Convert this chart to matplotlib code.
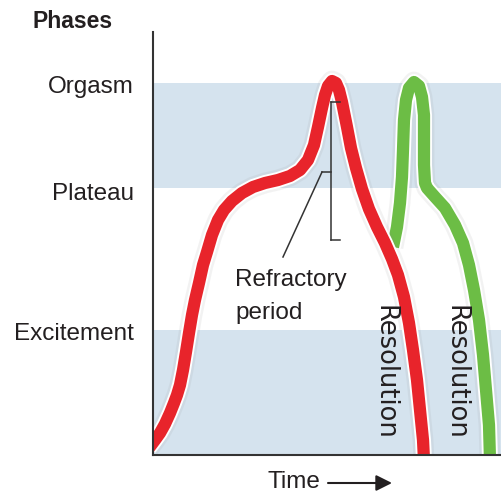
import matplotlib.pyplot as plt

# Phase levels (y) and shaded bands
phases = ['Orgasm', 'Plateau', 'Excitement']
phase_levels = [370, 264, 123]
bands = [(0, 125), (267, 372)]

# Red curve (time, level)
red_x = [-4, 2, 7, 12, 17, 21, 24, 27, 30, 33, 36, 39, 42, 46, 50, 54, 59, 65, 71, 79,
         89, 100, 112, 125, 137, 147, 155, 161, 165, 169, 172, 175, 179, 183, 186, 189,
         194, 198, 203, 209, 216, 224, 232, 239, 245, 251, 256, 260, 264, 267, 270, 271]
red_y = [7, 15, 22, 31, 42, 52, 60, 70, 85, 103, 122, 140, 155, 172, 190, 203, 220, 235, 245, 254,
         262, 268, 272, 275, 279, 285, 295, 310, 328, 347, 360, 369, 374, 372, 365, 353,
         328, 307, 287, 266, 246, 228, 212, 196, 180, 158, 132, 105, 75, 45, 15, -5]

# Green curve (time, level)
green_x = [240, 244, 247, 249, 250, 251, 253, 256, 261, 266, 269, 271, 271, 271, 272, 274,
           282, 292, 302, 310, 316, 321, 326, 330, 333, 336, 337]
green_y = [208, 228, 252, 278, 305, 335, 355, 367, 373, 369, 358, 340, 315, 290, 272, 267,
           258, 247, 230, 212, 190, 165, 135, 100, 65, 30, -5]

# Refractory bracket
refr_x = 178
refr_top, refr_mid, refr_bottom = 353, 283, 215
refr_label_xy = (130, 198)

band_color = '#d5e3ee'
ink = '#231f20'
font = ['Liberation Sans', 'DejaVu Sans']

W, H = 502, 497
fig = plt.figure(figsize=(W / 100, H / 100), dpi=100)
ax = fig.add_axes([153 / W, (H - 455) / H, 349 / W, 423 / H])
ax.set_xlim(0, 349)
ax.set_ylim(0, 423)

for lo, hi in bands:
    ax.axhspan(lo, hi, color=band_color, zorder=0, lw=0)

for xs, ys, c in [(green_x, green_y, '#6cbd45'), (red_x, red_y, '#e8242b')]:
    ax.plot(xs, ys, color='#888888', lw=15, alpha=0.1, solid_joinstyle='round', solid_capstyle='butt')
    ax.plot(xs, ys, color='white', lw=11.5, solid_joinstyle='round', solid_capstyle='butt')
    ax.plot(xs, ys, color=c, lw=8.8, solid_joinstyle='round', solid_capstyle='butt')

# bracket
bk = dict(color='#333333', lw=1.1, zorder=5)
ax.plot([refr_x, refr_x], [refr_bottom, refr_top], **bk)
ax.plot([refr_x, refr_x + 9], [refr_top, refr_top], **bk)
ax.plot([refr_x, refr_x + 9], [refr_bottom, refr_bottom], **bk)
ax.plot([refr_x - 9, refr_x], [refr_mid, refr_mid], **bk)
ax.plot([refr_x - 9, refr_label_xy[0]], [refr_mid, refr_label_xy[1]], **bk)
ax.text(82, 169, 'Refractory', fontsize=17.5, color=ink, family=font, va='baseline', ha='left')
ax.text(82, 136, 'period', fontsize=17.5, color=ink, family=font, va='baseline', ha='left')

for xr in [232, 303]:
    ax.text(xr, 83, 'Resolution', rotation=-90, fontsize=18.5, color=ink,
            family=['DejaVu Sans'], ha='center', va='center')

ax.set_yticks(phase_levels)
ax.set_yticklabels(phases, fontsize=17.5, color=ink, family=font)
ax.tick_params(axis='y', length=0, pad=14)
ax.set_xticks([])
for s in ['top', 'right']:
    ax.spines[s].set_visible(False)
for s in ['left', 'bottom']:
    ax.spines[s].set_color('#333333')
    ax.spines[s].set_linewidth(1.5)
    ax.spines[s].set_zorder(6)

fig.text(32 / W, 1 - 22 / H, 'Phases', fontsize=16.5, fontweight='bold', color=ink,
         family=font, ha='left', va='center')
fig.text(268 / W, 1 - 482 / H, 'Time', fontsize=17.5, color=ink, family=font,
         ha='left', va='center')
ax.annotate('', xy=(392 / W, 1 - 483 / H), xytext=(328 / W, 1 - 483 / H),
            xycoords='figure fraction', textcoords='figure fraction',
            arrowprops=dict(arrowstyle='-|>', lw=1.5, color=ink, mutation_scale=24,
                            shrinkA=0, shrinkB=0))

fig.savefig('out.png', dpi=100)
